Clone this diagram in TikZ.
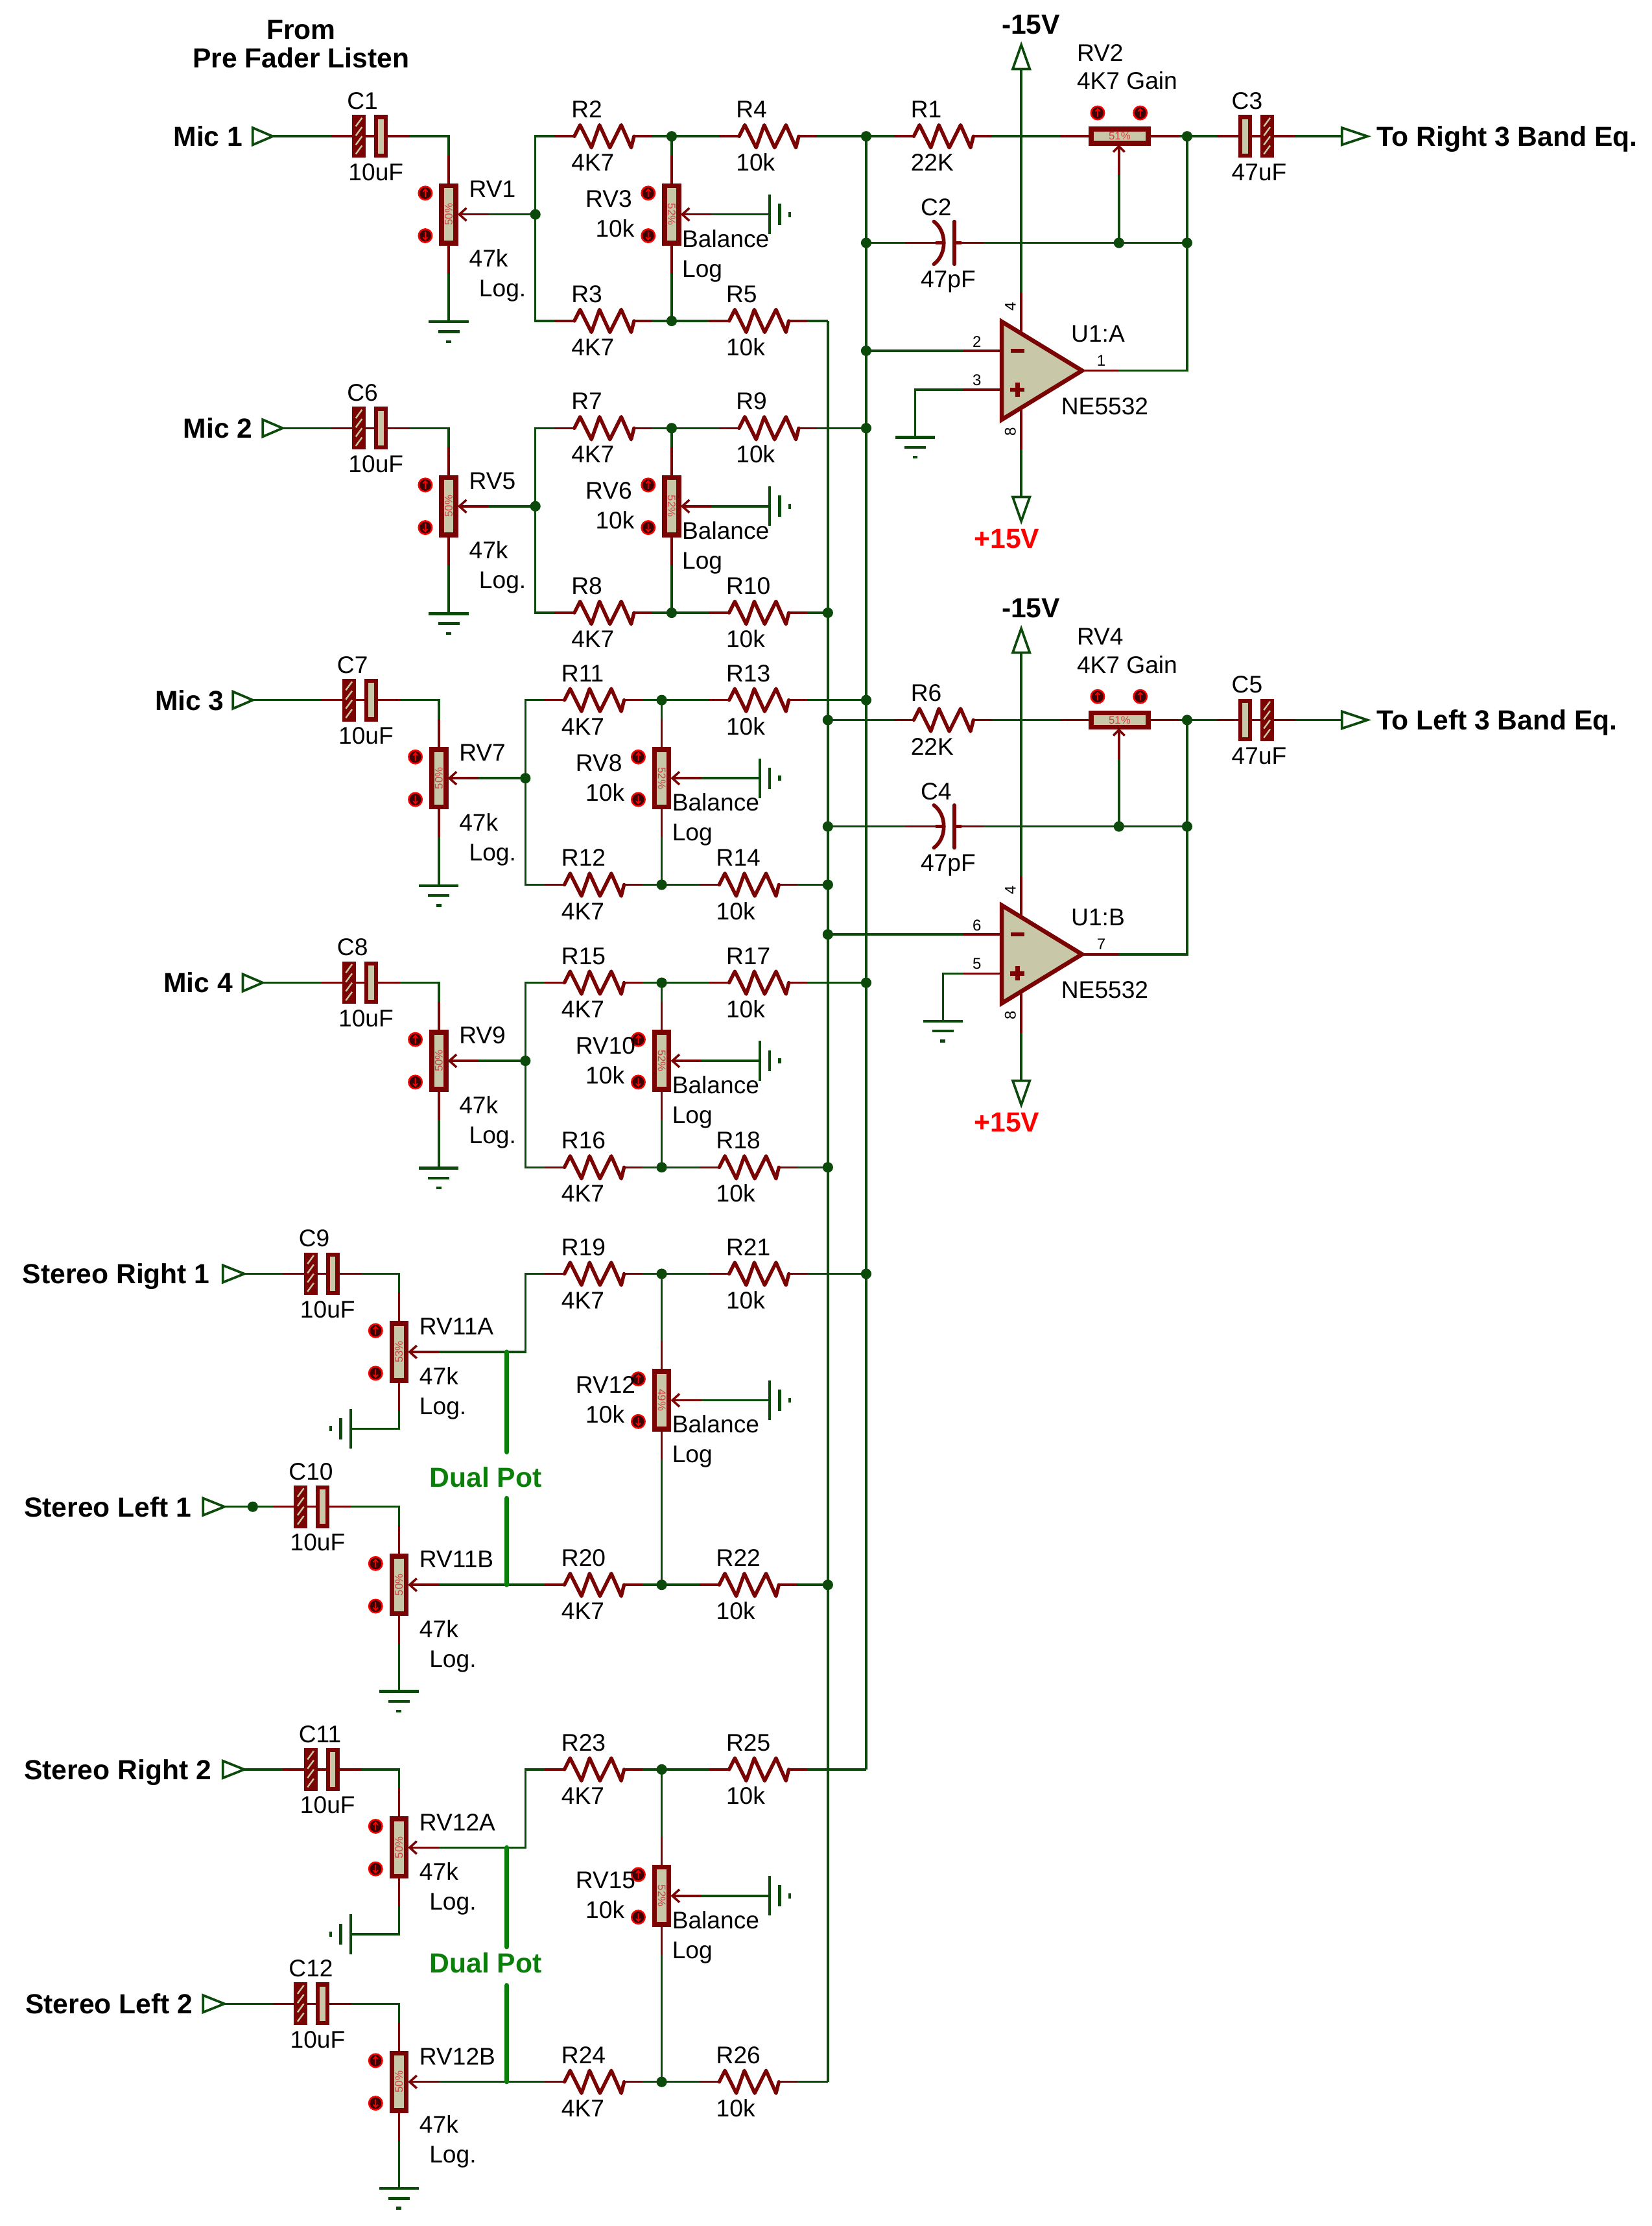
\documentclass[tikz,border=0pt]{standalone}
\usepackage{fontspec}
\setmainfont{Liberation Sans}
\definecolor{wg}{HTML}{0B4A0B}
\definecolor{dr}{HTML}{7A0404}
\definecolor{tan}{HTML}{C8C8A8}
\definecolor{pc}{HTML}{D04040}
\definecolor{dp}{HTML}{0A800A}
\newcounter{labn}
\tikzset{
  wire/.style={draw=wg,line width=1.6pt,line join=miter},
  lead/.style={draw=dr,line width=1.6pt},
  zig/.style={draw=dr,line width=2.5pt,line join=round,line cap=round},
  gndbar/.style={draw=wg,line width=2pt},
  termtri/.style={draw=wg,fill=white,line width=1.7pt,line join=miter},
  junc/.style={circle,fill=wg,inner sep=0pt,minimum size=7.4pt},
  lab/.style={anchor=base west,inner sep=0pt,font=\fontsize{17}{17}\selectfont},
  pinlab/.style={inner sep=0pt,font=\fontsize{11}{11}\selectfont},
  boldlab/.style={inner sep=0pt,font=\fontsize{19.5}{20}\selectfont\bfseries},
  potbody/.style={rectangle,draw=dr,fill=tan,line width=3.5pt,inner sep=0pt},
  potdot/.style={circle,draw=red,fill=black!50!dr,line width=1.1pt,inner sep=0pt,minimum size=9.4pt},
  pct/.style={inner sep=0pt,text=pc,font=\fontsize{7.7}{8}\selectfont},
  plate/.style={draw=dr,line width=2.8pt},
  dualpot/.style={draw=dp,line width=3.3pt,line cap=round},
}
% text label: left end x, middle of the capitals y
\newcommand{\Lab}[3]{\stepcounter{labn}\node[lab] (lab\arabic{labn}) at (#1-0.8,#2+6) {#3};}
% bold label: name, x, y, anchor, colour, text
\newcommand{\Bld}[6]{\node[boldlab,anchor=#4,text=#5] (#1) at (#2,#3+7) {#6};}
\newcommand{\Jn}[3]{\node[junc] (#1) at (#2,#3) {};}
% resistor: id, cx, cy, value
\newcommand{\Rh}[4]{%
  \coordinate (#1-l) at (#2-34.5,#3);
  \coordinate (#1-r) at (#2+34.5,#3);
  \draw[lead] (#1-l) -- (#2-20.5,#3);
  \draw[lead] (#2+21.5,#3) -- (#1-r);
  \draw[zig] (#2-20.5,#3) -- (#2-16.5,#3-8) -- (#2-8.5,#3+8) -- (#2-2.8,#3-8) -- (#2+4.5,#3+8) -- (#2+12.5,#3-8) -- (#2+19.5,#3+8) -- (#2+21.5,#3);
  \Lab{#2-22}{#3-19}{#1}
  \Lab{#2-22}{#3+18.5}{#4}
}
% plates of a polarised capacitor
\newcommand{\HP}[2]{%
  \fill[dr] (#1-4.8,#2-15) rectangle (#1+4.8,#2+15);
  \foreach \d in {5,11.5,18,24.5}
    \draw[tan,line width=1.1pt] (#1-2.2,#2-15+\d+3) -- (#1+2.2,#2-15+\d-3);
}
\newcommand{\LP}[2]{%
  \draw[plate,fill=tan] (#1-3.4,#2-13.6) rectangle (#1+3.4,#2+13.6);
}
% capacitor, hatched plate left: id, cx, cy, value
\newcommand{\CapL}[4]{%
  \coordinate (#1-l) at (#2-27.7,#3);
  \coordinate (#1-r) at (#2+27.7,#3);
  \draw[lead] (#1-l) -- (#1-r);
  \HP{#2-8.25}{#3}
  \LP{#2+7.25}{#3}
  \Lab{#2-16}{#3-25}{#1}
  \Lab{#2-15}{#3+25}{#4}
}
% capacitor, hatched plate right
\newcommand{\CapR}[4]{%
  \coordinate (#1-l) at (#2-27.7,#3);
  \coordinate (#1-r) at (#2+27.7,#3);
  \draw[lead] (#1-l) -- (#1-r);
  \LP{#2-7.75}{#3}
  \HP{#2+7.75}{#3}
  \Lab{#2-16.5}{#3-25}{#1}
  \Lab{#2-16.5}{#3+25}{#4}
}
% non polarised capacitor: id, cx, cy, value
\newcommand{\CapN}[4]{%
  \coordinate (#1-l) at (#2-27.5,#3);
  \coordinate (#1-r) at (#2+27.5,#3);
  \draw[lead] (#1-l) -- (#2+0.8,#3);
  \draw[lead] (#2+7,#3) -- (#1-r);
  \draw[draw=dr,line width=2.6pt] (#2-6,#3) -- (#2+0.8,#3) (#2+7,#3) -- (#2+12,#3);
  \draw[draw=dr,line width=2.6pt,line cap=round] (#2-7.3,#3-15) .. controls (#2+2,#3-8) and (#2+2,#3+8) .. (#2-7.3,#3+15);
  \draw[draw=dr,line width=2.6pt,line cap=round] (#2+7,#3-15) -- (#2+7,#3+15);
  \Lab{#2-16}{#3-25}{#1}
  \Lab{#2-16}{#3+25.5}{#4}
}
% pot dots
\newcommand{\UpDot}[3]{%
  \node[potdot] (#1) at (#2,#3) {};
  \draw[red,line width=0.8pt] (#2,#3+2.8) -- (#2,#3-2.8) (#2-1.6,#3-1) -- (#2,#3-2.8) -- (#2+1.6,#3-1);
}
\newcommand{\DnDot}[3]{%
  \node[potdot] (#1) at (#2,#3) {};
  \draw[red,line width=0.8pt] (#2,#3-2.8) -- (#2,#3+2.8) (#2-1.6,#3+1) -- (#2,#3+2.8) -- (#2+1.6,#3+1);
}
% vertical pot: id, cx, cy, percent, rotation
\newcommand{\Pot}[5]{%
  \coordinate (#1-t) at (#2,#3-41.6);
  \coordinate (#1-b) at (#2,#3+41.6);
  \coordinate (#1-w) at (#2+28,#3);
  \draw[lead] (#1-t) -- (#1-b);
  \draw[lead] (#1-w) -- (#2+7.5,#3);
  \draw[lead] (#2+12.5,#3-4.5) -- (#2+7.5,#3) -- (#2+12.5,#3+4.5);
  \node[potbody,minimum width=10.1pt,minimum height=40.5pt] (#1) at (#2,#3) {};
  \node[pct,rotate=#5] (#1-p) at (#2,#3) {#4};
  \UpDot{#1-u}{#2-16.5}{#3-15}
  \DnDot{#1-d}{#2-16.5}{#3+15}
}
% horizontal pot: id, cx, cy, percent
\newcommand{\PotH}[4]{%
  \coordinate (#1-l) at (#2-42,#3);
  \coordinate (#1-r) at (#2+42,#3);
  \coordinate (#1-w) at (#2-0.5,#3+27.5);
  \draw[lead] (#1-l) -- (#1-r);
  \draw[lead] (#1-w) -- (#2-0.5,#3+7);
  \draw[lead] (#2-4.5,#3+11) -- (#2-0.5,#3+7) -- (#2+3.5,#3+11);
  \node[potbody,minimum width=40.5pt,minimum height=10.1pt] (#1) at (#2,#3) {};
  \node[pct] (#1-p) at (#2,#3) {#4};
  \UpDot{#1-u}{#2-15.5}{#3-16.5}
  \UpDot{#1-d}{#2+14.5}{#3-16.5}
}
% grounds
\newcommand{\GndD}[3]{%
  \coordinate (#1) at (#2,#3);
  \draw[gndbar] (#2-14,#3) -- (#2+14,#3) (#2-7.5,#3+7) -- (#2+7.5,#3+7) (#2-1.8,#3+14) -- (#2+1.8,#3+14);
}
\newcommand{\GndR}[3]{%
  \coordinate (#1) at (#2,#3);
  \draw[gndbar] (#2,#3-14) -- (#2,#3+14) (#2+7,#3-7.5) -- (#2+7,#3+7.5) (#2+14,#3-1.8) -- (#2+14,#3+1.8);
}
\newcommand{\GndL}[3]{%
  \coordinate (#1) at (#2,#3);
  \draw[gndbar] (#2,#3-14) -- (#2,#3+14) (#2-7,#3-7.5) -- (#2-7,#3+7.5) (#2-14,#3-1.8) -- (#2-14,#3+1.8);
}
% terminals
\newcommand{\TermH}[4]{%
  \coordinate (#1-a) at (#2,#3);
  \coordinate (#1-b) at (#2+#4,#3);
  \draw[termtri] (#2,#3-6) -- (#2+#4,#3) -- (#2,#3+6) -- cycle;
}
\newcommand{\TermV}[4]{%
  \coordinate (#1) at (#2,#3);
  \draw[termtri] (#2-6,#3) -- (#2,#4) -- (#2+6,#3) -- cycle;
}
% op amp: id, cy, pin-, pin+, pinout
\newcommand{\Opamp}[5]{%
  \coordinate (#1-m) at (678.5,#2-14);
  \coordinate (#1-p) at (678.5,#2+13.5);
  \coordinate (#1-o) at (787.5,#2);
  \coordinate (#1-vt) at (719.2,#2-55);
  \coordinate (#1-vb) at (719.2,#2+55.5);
  \draw[lead] (#1-m) -- (705.5,#2-14);
  \draw[lead] (#1-p) -- (705.5,#2+13.5);
  \draw[lead] (761.5,#2) -- (#1-o);
  \draw[lead] (#1-vt) -- (719.2,#2-26);
  \draw[lead] (#1-vb) -- (719.2,#2+26);
  \draw[draw=dr,fill=tan,line width=3pt,line join=miter] (705.5,#2-34.5) -- (762,#2) -- (705.5,#2+34.5) -- cycle;
  \draw[dr,line width=3pt] (712,#2-14) -- (721.5,#2-14);
  \draw[dr,line width=3pt] (711.5,#2+13.5) -- (721.5,#2+13.5) (716.5,#2+8.5) -- (716.5,#2+18.5);
  \node[pinlab] (#1-n1) at (688,#2-20.5) {#3};
  \node[pinlab] (#1-n2) at (688,#2+6.5) {#4};
  \node[pinlab] (#1-n3) at (775.5,#2-7) {#5};
  \node[pinlab,rotate=90] (#1-n4) at (711.5,#2-45) {4};
  \node[pinlab,rotate=90] (#1-n5) at (711.5,#2+43) {8};
}
% a complete mono channel: dx, dy, C, RV, R top left, R top right, RV balance, R bottom left, R bottom right
\newcommand{\MonoRow}[9]{%
\begin{scope}[shift={(#1,#2)}]
  \CapL{#3}{261}{96}{10uF}
  \Pot{#4}{316}{151}{50\%}{90}
  \GndD{#4-g}{316}{226.6}
  \Lab{331}{133}{#4}
  \Lab{331}{182}{47k}
  \Lab{338}{203}{Log.}
  \Rh{#5}{425}{96}{4K7}
  \Rh{#6}{541}{96}{10k}
  \Rh{#8}{425}{226}{4K7}
  \Rh{#9}{534}{226}{10k}
  \Pot{#7}{473}{151}{52\%}{-90}
  \GndR{#7-g}{542}{151}
  \Lab{413}{140}{#7}
  \Lab{420}{161}{10k}
  \Lab{481}{168}{Balance}
  \Lab{481}{189}{Log}
  \Jn{#4-J}{377}{151}
  \Jn{#5-J}{473}{96}
  \Jn{#8-J}{473}{226}
  \draw[wire] (#3-r) -| (#4-t);
  \draw[wire] (#4-b) -- (#4-g);
  \draw[wire] (#4-w) -- (#4-J.center);
  \draw[wire] (#5-l) -| (#4-J.center);
  \draw[wire] (#8-l) -| (#4-J.center);
  \draw[wire] (#5-r) -- (#5-J.center) -- (#6-l);
  \draw[wire] (#8-r) -- (#8-J.center) -- (#9-l);
  \draw[wire] (#5-J.center) -- (#7-t);
  \draw[wire] (#7-b) -- (#8-J.center);
  \draw[wire] (#7-w) -- (#7-g);
\end{scope}
}
\begin{document}
\begin{tikzpicture}[x=1.0024pt,y=-1.0024pt]
\useasboundingbox (0,0) rectangle (1163.4,1567.5);
\fill[white] (0,0) rectangle (1163.4,1567.5);

% buses and their junctions
\Jn{A96}{610}{96}
\Jn{A171}{610}{171}
\Jn{A246}{610}{247}
\Jn{A301}{610}{301.5}
\Jn{A493}{610}{493}
\Jn{A692}{610}{692}
\Jn{A897}{610}{897}
\coordinate (Abot) at (610,1246);
\coordinate (Btop) at (583,226);
\Jn{B431}{583}{431.5}
\Jn{B507}{583}{507}
\Jn{B582}{583}{582}
\Jn{B623}{583}{623}
\Jn{B658}{583}{658}
\Jn{B822}{583}{822}
\Jn{B1116}{583}{1116}
\coordinate (Bbot) at (583,1466);
\draw[wire] (A96.center) -- (Abot);
\draw[wire] (Btop) -- (Bbot);

% title
\Bld{title1}{212}{20.5}{base}{black}{From}
\Bld{title2}{212}{40.5}{base}{black}{Pre Fader Listen}

% mono channels
\MonoRow{0}{0}{C1}{RV1}{R2}{R4}{RV3}{R3}{R5}
\MonoRow{0}{205.5}{C6}{RV5}{R7}{R9}{RV6}{R8}{R10}
\MonoRow{-7}{397}{C7}{RV7}{R11}{R13}{RV8}{R12}{R14}
\MonoRow{-7}{596}{C8}{RV9}{R15}{R17}{RV10}{R16}{R18}

\TermH{T1}{178}{96}{14}
\TermH{T2}{185}{301.5}{14}
\TermH{T3}{164}{493}{14}
\TermH{T4}{171}{692}{14}
\Bld{mic1}{171}{96}{base east}{black}{Mic 1}
\Bld{mic2}{178}{301.5}{base east}{black}{Mic 2}
\Bld{mic3}{158}{493}{base east}{black}{Mic 3}
\Bld{mic4}{164}{692}{base east}{black}{Mic 4}
\draw[wire] (T1-b) -- (C1-l);
\draw[wire] (T2-b) -- (C6-l);
\draw[wire] (T3-b) -- (C7-l);
\draw[wire] (T4-b) -- (C8-l);
\draw[wire] (R4-r) -- (A96.center);
\draw[wire] (R9-r) -- (A301.center);
\draw[wire] (R13-r) -- (A493.center);
\draw[wire] (R17-r) -- (A692.center);
\draw[wire] (R5-r) -- (Btop);
\draw[wire] (R10-r) -- (B431.center);
\draw[wire] (R14-r) -- (B623.center);
\draw[wire] (R18-r) -- (B822.center);

% stereo pair 1
\TermH{T5}{157}{897}{15}
\Bld{st1}{148}{897}{base east}{black}{Stereo Right 1}
\CapL{C9}{227}{897}{10uF}
\Pot{RV11A}{281}{952}{53\%}{90}
\GndL{GA}{247}{1006}
\Lab{296}{934}{RV11A}
\Lab{296}{969}{47k}
\Lab{296}{990}{Log.}
\Rh{R19}{418}{897}{4K7}
\Rh{R21}{534}{897}{10k}
\Jn{J19}{466}{897}
\coordinate (K19) at (370,952);
\draw[wire] (T5-b) -- (C9-l);
\draw[wire] (C9-r) -| (RV11A-t);
\draw[wire] (RV11A-b) |- (GA);
\draw[wire] (RV11A-w) -- (K19) |- (R19-l);
\draw[wire] (R19-r) -- (J19.center) -- (R21-l);
\draw[wire] (R21-r) -- (A897.center);

\TermH{T6}{143}{1061}{15}
\Bld{st2}{135}{1061}{base east}{black}{Stereo Left 1}
\Jn{J10}{178}{1061}
\CapL{C10}{220}{1061}{10uF}
\Pot{RV11B}{281}{1116}{50\%}{90}
\GndD{GB}{281}{1191}
\Lab{296}{1098}{RV11B}
\Lab{296}{1147}{47k}
\Lab{303}{1168}{Log.}
\Rh{R20}{418}{1116}{4K7}
\Rh{R22}{527}{1116}{10k}
\Jn{J20}{466}{1116}
\draw[wire] (T6-b) -- (J10.center) -- (C10-l);
\draw[wire] (C10-r) -| (RV11B-t);
\draw[wire] (RV11B-b) -- (GB);
\draw[wire] (RV11B-w) -- (R20-l);
\draw[wire] (R20-r) -- (J20.center) -- (R22-l);
\draw[wire] (R22-r) -- (B1116.center);

\Pot{RV12}{466}{986}{49\%}{-90}
\GndR{GC}{542}{986}
\Lab{406}{975}{RV12}
\Lab{413}{996}{10k}
\Lab{474}{1003}{Balance}
\Lab{474}{1024}{Log}
\draw[wire] (J19.center) -- (RV12-t);
\draw[wire] (RV12-b) -- (J20.center);
\draw[wire] (RV12-w) -- (GC);

\coordinate (D1a) at (357,952);
\coordinate (D1b) at (357,1022.5);
\coordinate (D1c) at (357,1055);
\coordinate (D1d) at (357,1116);
\draw[dualpot] (D1a) -- (D1b);
\draw[dualpot] (D1c) -- (D1d);
\Bld{dual1}{342}{1040}{base}{dp}{Dual Pot}

% stereo pair 2
\TermH{T7}{157}{1246}{15}
\Bld{st3}{149}{1246}{base east}{black}{Stereo Right 2}
\CapL{C11}{227}{1246}{10uF}
\Pot{RV12A}{281}{1301}{50\%}{90}
\GndL{GD}{247}{1362}
\Lab{296}{1283}{RV12A}
\Lab{296}{1318}{47k}
\Lab{303}{1339}{Log.}
\Rh{R23}{418}{1246}{4K7}
\Rh{R25}{534}{1246}{10k}
\Jn{J23}{466}{1246}
\coordinate (K23) at (370,1301);
\draw[wire] (T7-b) -- (C11-l);
\draw[wire] (C11-r) -| (RV12A-t);
\draw[wire] (RV12A-b) |- (GD);
\draw[wire] (RV12A-w) -- (K23) |- (R23-l);
\draw[wire] (R23-r) -- (J23.center) -- (R25-l);
\draw[wire] (R25-r) -- (Abot);

\TermH{T8}{143}{1411}{15}
\Bld{st4}{136}{1411}{base east}{black}{Stereo Left 2}
\CapL{C12}{220}{1411}{10uF}
\Pot{RV12B}{281}{1466}{50\%}{90}
\GndD{GE}{281}{1541}
\Lab{296}{1448}{RV12B}
\Lab{296}{1496}{47k}
\Lab{303}{1517}{Log.}
\Rh{R24}{418}{1466}{4K7}
\Rh{R26}{527}{1466}{10k}
\Jn{J24}{466}{1466}
\draw[wire] (T8-b) -- (C12-l);
\draw[wire] (C12-r) -| (RV12B-t);
\draw[wire] (RV12B-b) -- (GE);
\draw[wire] (RV12B-w) -- (R24-l);
\draw[wire] (R24-r) -- (J24.center) -- (R26-l);
\draw[wire] (R26-r) -- (Bbot);

\Pot{RV15}{466}{1335}{52\%}{-90}
\GndR{GF}{542}{1335}
\Lab{406}{1324}{RV15}
\Lab{413}{1345}{10k}
\Lab{474}{1352}{Balance}
\Lab{474}{1373}{Log}
\draw[wire] (J23.center) -- (RV15-t);
\draw[wire] (RV15-b) -- (J24.center);
\draw[wire] (RV15-w) -- (GF);

\coordinate (D2a) at (357,1301);
\coordinate (D2b) at (357,1371);
\coordinate (D2c) at (357,1398);
\coordinate (D2d) at (357,1466);
\draw[dualpot] (D2a) -- (D2b);
\draw[dualpot] (D2c) -- (D2d);
\Bld{dual2}{342}{1382}{base}{dp}{Dual Pot}

% right amplifier
\Rh{R1}{664}{96}{22K}
\PotH{RV2}{788.5}{96}{51\%}
\Lab{759}{37}{RV2}
\Lab{759}{57}{4K7 Gain}
\Jn{J96}{836}{96}
\CapR{C3}{884.5}{96}{47uF}
\TermH{TO1}{945}{96}{18}
\Bld{out1}{969.5}{96}{base west}{black}{To Right 3 Band Eq.}
\CapN{C2}{665}{171}{47pF}
\Jn{Jw1}{788}{171}
\Jn{J171}{836}{171}
\Opamp{U1A}{261}{2}{3}{1}
\Lab{755}{235}{U1:A}
\Lab{748}{286}{NE5532}
\TermV{PA}{719.2}{48.6}{31.6}
\TermV{PB}{719.2}{350}{367}
\Bld{va}{726}{17}{base}{black}{-15V}
\Bld{vb}{709}{379}{base}{red}{+15V}
\GndD{GU1}{644.5}{308}
\coordinate (KU1) at (836,261);
\draw[wire] (R4-r) -- (A96.center) -- (R1-l);
\draw[wire] (R1-r) -- (RV2-l);
\draw[wire] (RV2-r) -- (J96.center) -- (C3-l);
\draw[wire] (C3-r) -- (TO1-a);
\draw[wire] (A171.center) -- (C2-l);
\draw[wire] (C2-r) -- (Jw1.center) -- (J171.center);
\draw[wire] (RV2-w) -- (Jw1.center);
\draw[wire] (J96.center) -- (KU1) -- (U1A-o);
\draw[wire] (U1A-m) -- (A246.center);
\draw[wire] (U1A-p) -| (GU1);
\draw[wire] (U1A-vt) -- (PA);
\draw[wire] (U1A-vb) -- (PB);

% left amplifier
\Rh{R6}{664}{507}{22K}
\PotH{RV4}{788.5}{507}{51\%}
\Lab{759}{448}{RV4}
\Lab{759}{468}{4K7 Gain}
\Jn{J507}{836}{507}
\CapR{C5}{884.5}{507}{47uF}
\TermH{TO2}{945}{507}{18}
\Bld{out2}{969.5}{507}{base west}{black}{To Left 3 Band Eq.}
\CapN{C4}{665}{582}{47pF}
\Jn{Jw2}{788}{582}
\Jn{J582}{836}{582}
\Opamp{U1B}{672}{6}{5}{7}
\Lab{755}{646}{U1:B}
\Lab{748}{697}{NE5532}
\TermV{PC}{719.2}{459.6}{442.6}
\TermV{PD}{719.2}{761}{778}
\Bld{vc}{726}{428}{base}{black}{-15V}
\Bld{vd}{709}{790}{base}{red}{+15V}
\GndD{GU2}{664}{719}
\coordinate (KU2) at (836,672);
\draw[wire] (B507.center) -- (R6-l);
\draw[wire] (R6-r) -- (RV4-l);
\draw[wire] (RV4-r) -- (J507.center) -- (C5-l);
\draw[wire] (C5-r) -- (TO2-a);
\draw[wire] (B582.center) -- (C4-l);
\draw[wire] (C4-r) -- (Jw2.center) -- (J582.center);
\draw[wire] (RV4-w) -- (Jw2.center);
\draw[wire] (J507.center) -- (KU2) -- (U1B-o);
\draw[wire] (U1B-m) -- (B658.center);
\draw[wire] (U1B-p) -| (GU2);
\draw[wire] (U1B-vt) -- (PC);
\draw[wire] (U1B-vb) -- (PD);
\end{tikzpicture}
\end{document}
